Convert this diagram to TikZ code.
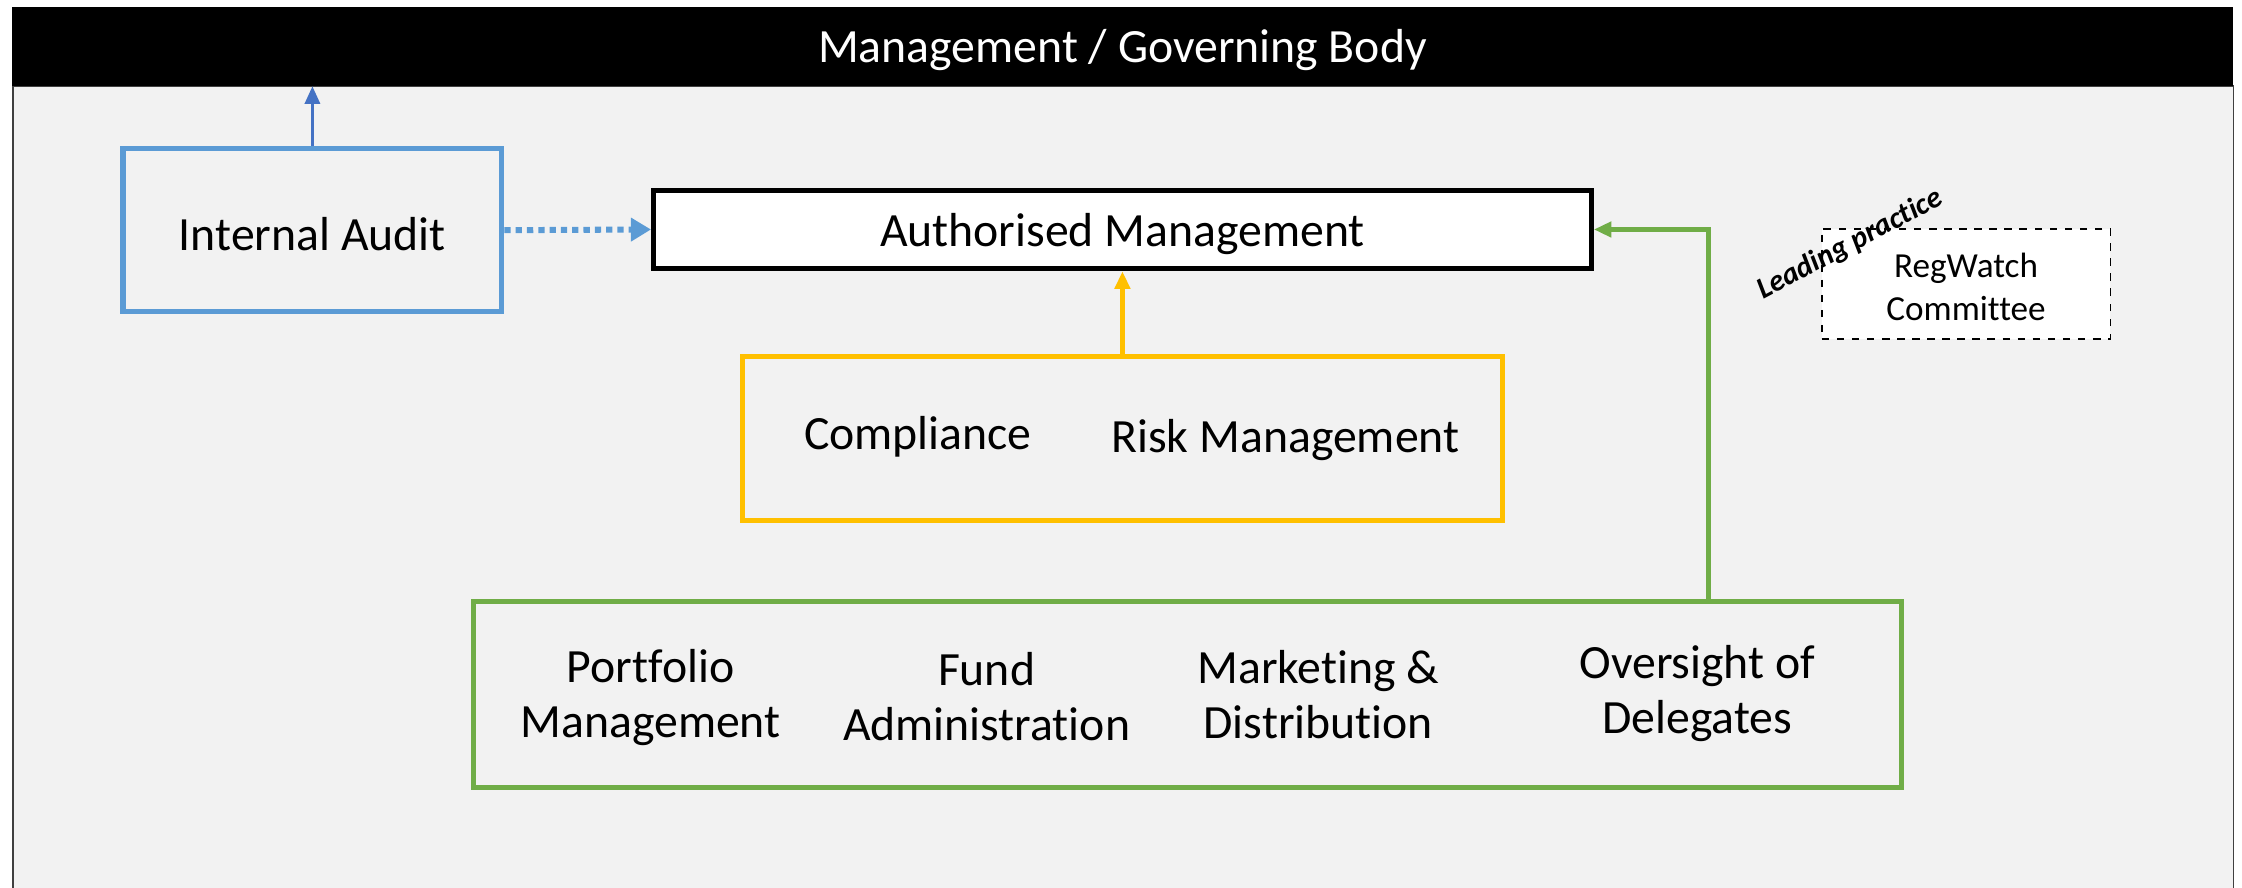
\documentclass[tikz,border=0pt]{standalone}
\usepackage{fontspec}
\setmainfont{Carlito}[Ligatures=NoCommon]
\usetikzlibrary{arrows.meta}
\definecolor{panelgray}{HTML}{F2F2F2}
\definecolor{iablue}{HTML}{5B9BD5}
\definecolor{linkblue}{HTML}{4472C4}
\definecolor{ctrlyellow}{HTML}{FFC000}
\definecolor{opsgreen}{HTML}{70AD47}
\begin{document}
\begin{tikzpicture}[x=0.02cm,y=-0.02cm,
  bigtext/.style={font=\fontsize{19}{22}\selectfont},
  frame/.style={draw, line width=2pt, rectangle, inner sep=0pt},
  label/.style={bigtext, align=center, inner sep=0pt},
  tipsmall/.style={-{Triangle[length=7pt,width=6pt]}},
]
\useasboundingbox (0,0) rectangle (1568,621);

% grey working area below the governing body bar
\fill[panelgray] (9,60) rectangle (1562,621);
\draw[black!75, line width=0.6pt] (9,621) -- (9,60) -- (1562,60) -- (1562,621);

% governing body bar
\node[fill=black, inner sep=0pt, minimum width=31.08cm, minimum height=1.1cm] (gov) at (785,32.5) {};
\node[label, text=white] (govtext) at (785,35) {Management / Governing Body};

% boxes
\node[frame, draw=iablue, minimum width=5.3cm, minimum height=2.28cm]
  (ia) at (218.5,161) {};
\node[frame, draw=black, fill=white, minimum width=13.12cm, minimum height=1.1cm]
  (am) at (785,160.5) {};
\node[frame, draw=ctrlyellow, minimum width=10.64cm, minimum height=2.3cm]
  (ctl) at (785,306.5) {};
\node[frame, draw=opsgreen, minimum width=19.98cm, minimum height=2.6cm]
  (ops) at (830.5,486) {};
\node[draw=black, dashed, line width=0.7pt, fill=white, inner sep=0pt,
      minimum width=4.04cm, minimum height=1.54cm] (rw) at (1375,198.5) {};

% box titles
\node[label] (iatext) at (218.5,164) {Internal Audit};
\node[label] (amtext) at (785,164) {Authorised Management};
\node[align=center, inner sep=0pt, font=\fontsize{14}{17}\selectfont]
  (rwtext) at (1375,200.5) {RegWatch\\Committee};

% labels inside the control box
\node[label] (comp) at (642,305.5) {Compliance};
\node[label] (risk) at (899,307.5) {Risk Management};

% labels inside the operations box
\node[label] (pm) at (455,488) {Portfolio\\Management};
\node[label] (fa) at (690,487) {Fund\\Administration};
\node[label] (md) at (922,486) {Marketing \&\\Distribution};
\node[label] (od) at (1187,485) {Oversight of\\Delegates};

% leading practice tag
\node[rotate=28, font=\fontsize{12}{14}\selectfont\bfseries\itshape, inner sep=0pt]
  (lp) at (1294,171) {Leading practice};

% connectors
\draw[linkblue, line width=1.2pt, tipsmall] (ia.north) -- (ia.north |- gov.south);
\draw[iablue, line width=2.4pt, dash pattern=on 2.5pt off 2pt,
      -{Triangle[length=8pt,width=9pt]}] (ia.east) -- (am.west);
\draw[ctrlyellow, line width=2pt, tipsmall] (ctl.north) -- (am.south);
\coordinate (gx) at (1195,0);
\draw[opsgreen, line width=2pt, tipsmall] (gx |- ops.north) -- (gx |- am.east) -- (am.east);
\end{tikzpicture}
\end{document}
